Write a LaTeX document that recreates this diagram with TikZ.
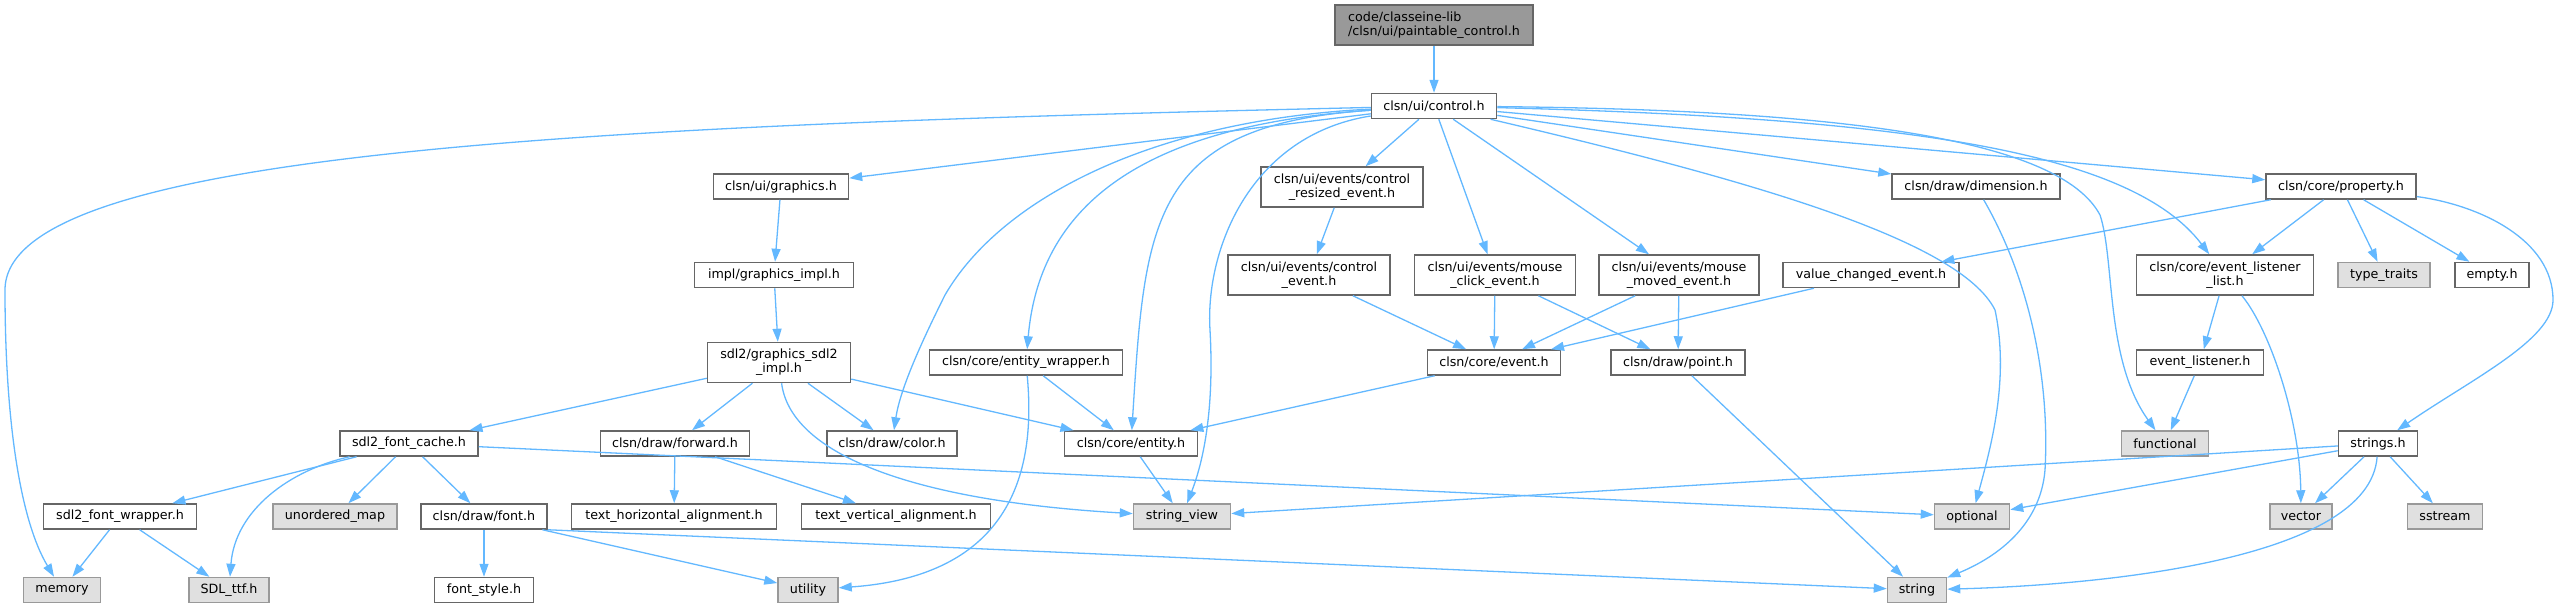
\documentclass[tikz,border=0pt]{standalone}
\usepackage{fontspec}
\setmainfont{DejaVu Sans}
\usetikzlibrary{arrows.meta}
\definecolor{edgeblue}{HTML}{63B8FF}
\definecolor{boxline}{HTML}{666666}
\definecolor{sysline}{HTML}{999999}
\definecolor{sysfill}{HTML}{E0E0E0}
\definecolor{rootfill}{HTML}{999999}
\tikzset{hbox/.style={
    rectangle,
    draw=boxline,
    fill=white,
    line width=1.5pt,
    inner sep=0pt,
    align=center,
    font=\fontsize{12.7}{14}\selectfont,
    minimum height=25pt
  },
  tbox/.style={hbox,minimum height=40pt},
  sysbox/.style={hbox,draw=sysline,fill=sysfill},
  rootbox/.style={tbox,fill=rootfill,align=left},
  dep/.style={draw=edgeblue,line width=1.3pt,-{Triangle[length=13pt,width=9pt]}},
}

\begin{document}
\begin{tikzpicture}[x=1pt,y=-1pt]
  \useasboundingbox (0,0) rectangle (2558,608);
  % headers
  \node [rootbox,minimum width=198] (root) at (1434,25) {code/classeine-lib\\/clsn/ui/paintable\_control.h};
  \node [hbox,minimum width=125] (control) at (1434,106) {clsn/ui/control.h};
  \node [hbox,minimum width=135] (graphics) at (781,186.5) {clsn/ui/graphics.h};
  \node [hbox,minimum width=159] (gfximpl) at (774,275) {impl/graphics\_impl.h};
  \node [tbox,minimum width=143] (sdlimpl) at (779,362.5) {sdl2/graphics\_sdl2\\\_impl.h};
  \node [hbox,minimum width=138] (fontcache) at (409,443.5) {sdl2\_font\_cache.h};
  \node [hbox,minimum width=149] (forward) at (675,443.5) {clsn/draw/forward.h};
  \node [hbox,minimum width=130] (color) at (892,443.5) {clsn/draw/color.h};
  \node [hbox,minimum width=153] (fontwrapper) at (120,516.5) {sdl2\_font\_wrapper.h};
  \node [sysbox,minimum width=124] (umap) at (335,516.5) {unordered\_map};
  \node [hbox,minimum width=126] (font) at (484,516.5) {clsn/draw/font.h};
  \node [hbox,minimum width=205] (texth) at (674,516.5) {text\_horizontal\_alignment.h};
  \node [hbox,minimum width=189] (textv) at (896,516.5) {text\_vertical\_alignment.h};
  \node [sysbox,minimum width=77] (memory) at (62,590) {memory};
  \node [sysbox,minimum width=80] (sdlttf) at (229,590) {SDL\_ttf.h};
  \node [hbox,minimum width=99] (fontstyle) at (484,590) {font\_style.h};
  \node [sysbox,minimum width=60] (utility) at (808,590) {utility};
  \node [hbox,minimum width=193] (entwrapper) at (1026,362.5) {clsn/core/entity\_wrapper.h};
  \node [hbox,minimum width=133] (entity) at (1131,443.5) {clsn/core/entity.h};
  \node [sysbox,minimum width=97] (strview) at (1182,516.5) {string\_view};
  \node [hbox,minimum width=133] (event) at (1494,362.5) {clsn/core/event.h};
  \node [hbox,minimum width=134] (point) at (1678,362.5) {clsn/draw/point.h};
  \node [tbox,minimum width=162] (resized) at (1342,187) {clsn/ui/events/control\\\_resized\_event.h};
  \node [tbox,minimum width=162] (ctrlevent) at (1309,275) {clsn/ui/events/control\\\_event.h};
  \node [tbox,minimum width=161] (mclick) at (1495,275) {clsn/ui/events/mouse\\\_click\_event.h};
  \node [tbox,minimum width=160] (mmoved) at (1679,275) {clsn/ui/events/mouse\\\_moved\_event.h};
  \node [hbox,minimum width=168] (dimension) at (1976,186.5) {clsn/draw/dimension.h};
  \node [hbox,minimum width=150] (property) at (2341,186.5) {clsn/core/property.h};
  \node [hbox,minimum width=176] (valchanged) at (1871,275) {value\_changed\_event.h};
  \node [tbox,minimum width=177] (evlist) at (2225,275) {clsn/core/event\_listener\\\_list.h};
  \node [sysbox,minimum width=92] (typetraits) at (2384,275) {type\_traits};
  \node [hbox,minimum width=74] (empty) at (2492,275) {empty.h};
  \node [hbox,minimum width=127] (evlistener) at (2200,362.5) {event\_listener.h};
  \node [sysbox,minimum width=87] (functional) at (2165,443.5) {functional};
  \node [hbox,minimum width=79] (strings) at (2378,443.5) {strings.h};
  \node [sysbox,minimum width=75] (optional) at (1972,516.5) {optional};
  \node [sysbox,minimum width=62] (vector) at (2301,516.5) {vector};
  \node [sysbox,minimum width=75] (sstream) at (2445,516.5) {sstream};
  \node [sysbox,minimum width=59] (string) at (1917,590) {string};

  % includes of control.h
  \draw[dep] (root) -- (control);
  \draw[dep] (control) .. controls (600,125) and (5,150) .. (5,290) .. controls (5,420) and (20,520) .. (memory);
  \draw[dep] (control) -- (graphics);
  \draw[dep] (control) .. controls (1150,120) and (1000,200) .. (945,295) .. controls (920,345) and (900,390) .. (color);
  \draw[dep] (control) .. controls (1150,125) and (1040,200) .. (entwrapper);
  \draw[dep] (control) .. controls (1150,125) and (1145,220) .. (entity);
  \draw[dep] (control) .. controls (1250,135) and (1205,250) .. (1210,330) .. controls (1215,420) and (1200,470) .. (strview);
  \draw[dep] (control) -- (resized);
  \draw[dep] (control) -- (mclick);
  \draw[dep] (control) -- (mmoved);
  \draw[dep] (control) .. controls (1750,180) and (1960,240) .. (1995,310) .. controls (2010,380) and (1990,450) .. (optional);
  \draw[dep] (control) -- (dimension);
  \draw[dep] (control) .. controls (1850,110) and (2060,140) .. (2100,215) .. controls (2115,260) and (2105,360) .. (functional);
  \draw[dep] (control) .. controls (1900,118) and (2130,150) .. (evlist);
  \draw[dep] (control) -- (property);

  % graphics branch
  \draw[dep] (graphics) -- (gfximpl);
  \draw[dep] (gfximpl) -- (sdlimpl);
  \draw[dep] (sdlimpl) -- (fontcache);
  \draw[dep] (sdlimpl) -- (forward);
  \draw[dep] (sdlimpl) -- (color);
  \draw[dep] (sdlimpl) -- (entity);
  \draw[dep] (sdlimpl) .. controls (790,450) and (900,500) .. (strview);
  \draw[dep] (fontcache) -- (fontwrapper);
  \draw[dep] (fontcache) .. controls (290,470) and (235,510) .. (sdlttf);
  \draw[dep] (fontcache) -- (umap);
  \draw[dep] (fontcache) -- (font);
  \draw[dep] (fontcache) -- (optional);
  \draw[dep] (fontwrapper) -- (memory);
  \draw[dep] (fontwrapper) -- (sdlttf);
  \draw[dep] (font) -- (fontstyle);
  \draw[dep] (font) -- (utility);
  \draw[dep] (font.south east) -- (string);
  \draw[dep] (forward) -- (texth);
  \draw[dep] (forward) -- (textv);

  % core and events
  \draw[dep] (entwrapper) -- (entity);
  \draw[dep] (entwrapper) .. controls (1035,460) and (1020,575) .. (utility);
  \draw[dep] (entity) -- (strview);
  \draw[dep] (resized) -- (ctrlevent);
  \draw[dep] (ctrlevent) -- (event);
  \draw[dep] (mclick) -- (event);
  \draw[dep] (mclick) -- (point);
  \draw[dep] (mmoved) -- (event);
  \draw[dep] (mmoved) -- (point);
  \draw[dep] (valchanged) -- (event);
  \draw[dep] (event) -- (entity);
  \draw[dep] (point) -- (string);
  \draw[dep] (dimension) .. controls (2030,280) and (2050,380) .. (2045,470) .. controls (2040,530) and (1990,560) .. (string);

  % property branch
  \draw[dep] (property) -- (valchanged);
  \draw[dep] (property) -- (evlist);
  \draw[dep] (property) -- (typetraits);
  \draw[dep] (property) -- (empty);
  \draw[dep] (property) .. controls (2480,205) and (2553,240) .. (2553,300) .. controls (2553,340) and (2470,380) .. (strings);
  \draw[dep] (evlist) -- (evlistener);
  \draw[dep] (evlist) .. controls (2270,330) and (2300,420) .. (vector);
  \draw[dep] (evlistener) -- (functional);
  \draw[dep] (strings) -- (strview);
  \draw[dep] (strings) -- (optional);
  \draw[dep] (strings) -- (vector);
  \draw[dep] (strings) -- (sstream);
  \draw[dep] (strings) .. controls (2370,560) and (2100,585) .. (string);
\end{tikzpicture}
\end{document}
